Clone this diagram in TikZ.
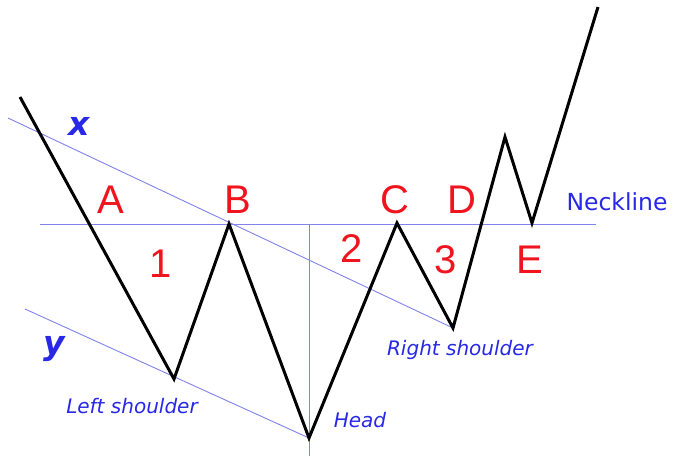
\documentclass[tikz,border=0pt]{standalone}
\usepackage{fontspec}
\setmainfont{Liberation Sans}
\newfontfamily\djv{DejaVu Sans}
\definecolor{myred}{RGB}{240,20,30}
\definecolor{myblue}{RGB}{40,40,230}
\definecolor{lineblue}{RGB}{130,130,235}
\begin{document}
\begin{tikzpicture}[x=1pt,y=-1pt,
  price/.style={line width=3pt,black,line join=miter},
  guide/.style={line width=0.9pt,lineblue},
  redlbl/.style={text=myred,font=\fontsize{40}{40}\selectfont,inner sep=0pt,anchor=base},
  bluelbl/.style={text=myblue,font=\djv\itshape\fontsize{20}{20}\selectfont,inner sep=0pt,anchor=base},
  axlbl/.style={text=myblue,font=\djv\bfseries\itshape\fontsize{33}{33}\selectfont,inner sep=0pt,anchor=base}]
\fill[white] (0,0) rectangle (673,456);
\useasboundingbox (0,0) rectangle (673,456);
% points
\coordinate (p0) at (20,97);
\coordinate (ls) at (174,379);
\coordinate (b) at (229,224);
\coordinate (hd) at (309,438);
\coordinate (c) at (397,223);
\coordinate (rs) at (453,328);
\coordinate (pk) at (505,137);
\coordinate (e) at (532,223);
\coordinate (p9) at (598,7);
% guide lines
\coordinate (nl0) at (40,224);
\coordinate (nl1) at (596,224);
\coordinate (vt) at (309,224);
\coordinate (vb) at (309,456);
\coordinate (x0) at (8,118);
\coordinate (y0) at (25,309);
\draw[guide] (nl0) -- (nl1);
\draw[guide] (vt) -- (vb);
\draw[guide] (x0) -- (rs);
\draw[guide] (y0) -- (hd);
% price path
\draw[price] (p0) -- (ls) -- (b) -- (hd) -- (c) -- (rs) -- (pk) -- (e) -- (p9);
% labels
\node[redlbl] (lA) at (111,213) {A};
\node[redlbl] (lB) at (238,213) {B};
\node[redlbl] (lC) at (395,213) {C};
\node[redlbl] (lD) at (462,213) {D};
\node[redlbl] (lE) at (530,273) {E};
\node[redlbl] (l1) at (161,277) {1};
\node[redlbl] (l2) at (352,262) {2};
\node[redlbl] (l3) at (446,273) {3};
\node[axlbl] (lx) at (79,135) {x};
\node[axlbl] (ly) at (54,354) {y};
\node[text=myblue,font=\djv\fontsize{23.5}{23.5}\selectfont,inner sep=0pt,anchor=base] (neck) at (617,210) {Neckline};
\node[bluelbl] (lls) at (132,413) {Left shoulder};
\node[bluelbl] (lhd) at (360,427) {Head};
\node[bluelbl] (lrs) at (460,355) {Right shoulder};
\end{tikzpicture}
\end{document}
